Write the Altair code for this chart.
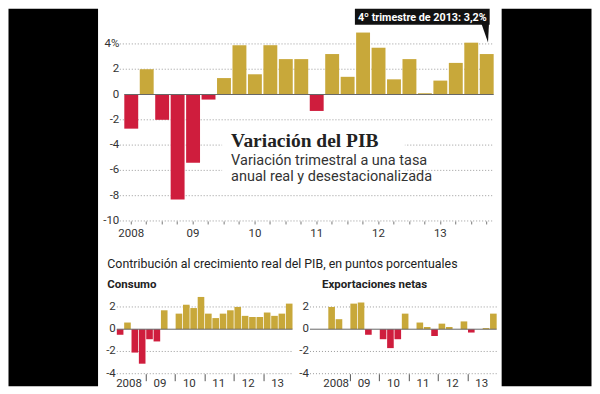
import altair as alt
import pandas as pd

# ---------------- data ----------------
years = ["2008", "2009", "2010", "2011", "2012", "2013"]
quarter_names = ["T1", "T2", "T3", "T4"]
periods = [f"{y}-{q}" for y in years for q in quarter_names]

pib = [-2.7, 2.0, -2.0, -8.3, -5.4, -0.4, 1.3, 3.9,
       1.6, 3.9, 2.8, 2.8, -1.3, 3.2, 1.4, 4.9,
       3.7, 1.2, 2.8, 0.1, 1.1, 2.5, 4.1, 3.2]
consumo = [-0.5, 0.6, -2.1, -3.1, -0.9, -1.1, 1.7, 0.0,
           1.4, 2.2, 1.9, 2.9, 1.4, 1.0, 1.4, 1.7,
           2.0, 1.2, 1.1, 1.1, 1.5, 1.2, 1.4, 2.3]
exportaciones = [0.0, 2.0, 0.9, 0.0, 2.3, 2.4, -0.5, 0.0,
                 -0.9, -1.7, -0.9, 1.4, 0.0, 0.6, 0.2, -0.6,
                 0.5, 0.2, 0.0, 0.7, -0.3, 0.0, 0.1, 1.4]

main_ticks = [-10, -8, -6, -4, -2, 0, 2, 4]
main_tick_labels = ["-10", "-8", "-6", "-4", "-2", "0", "2", "4%"]
main_grid = [-10, -8, -6, -4, -2, 2, 4]
small_ticks = [-4, -2, 0, 2]
small_tick_labels = ["-4", "-2", "0", "2"]
small_grid = [-4, -2, 2]
zero_line = [0]
year_starts = [p for p in periods if p.endswith("T1")]

titulo = "Variación del PIB"
subtitulo = ["Variación trimestral a una tasa", "anual real y desestacionalizada"]
nota = "4º trimestre de 2013: 3,2%"
encabezado = "Contribución al crecimiento real del PIB, en puntos porcentuales"
panel_consumo = "Consumo"
panel_export = "Exportaciones netas"

# ---------------- styles ----------------
GOLD = "#c8a83a"
RED = "#cf1d3d"
SANS = "Roboto, sans-serif"
SERIF = "Liberation Serif, serif"
LABEL = "#333333"
GRID = "#9a9a9a"

df_pib = pd.DataFrame({"periodo": periods, "valor": pib})
df_con = pd.DataFrame({"periodo": periods, "valor": consumo})
df_exp = pd.DataFrame({"periodo": periods, "valor": exportaciones})
df_main_lab = pd.DataFrame({"valor": main_ticks, "etiqueta": main_tick_labels})
df_main_grid = pd.DataFrame({"valor": main_grid})
df_small_lab = pd.DataFrame({"valor": small_ticks, "etiqueta": small_tick_labels})
df_small_grid = pd.DataFrame({"valor": small_grid})
df_zero = pd.DataFrame({"valor": zero_line})
dummy = pd.DataFrame({"k": [0]})

year_label = ("substring(datum.value,5)=='T1' ? "
              "(substring(datum.value,0,4)=='2008' ? '2008' : substring(datum.value,2,4)) : ''")
bar_color = alt.condition("datum.valor < 0", alt.value(RED), alt.value(GOLD))


def deco_rect(x, x2, y, y2, color):
    return alt.Chart(dummy).mark_rect(color=color).encode(
        x=alt.value(x), x2=alt.value(x2), y=alt.value(y), y2=alt.value(y2))


def deco_text(txt, x, y, size, weight="normal", font=SANS, color="#222222", align="left"):
    return alt.Chart(dummy).mark_text(
        text=txt, align=align, baseline="alphabetic", font=font, fontSize=size,
        fontWeight=weight, color=color).encode(x=alt.value(x), y=alt.value(y))


# ---------------- main chart ----------------
TOP_W, TOP_H = 377.5, 190

x_main = alt.X("periodo:N", sort=periods,
               scale=alt.Scale(paddingInner=0.1, paddingOuter=0.2423, align=1),
               axis=alt.Axis(title=None, labelExpr=year_label, labelAngle=0,
                             tickSize=3, tickColor="#777777", domain=False, grid=False,
                             bandPosition=0.5, labelPadding=4, labelFont=SANS,
                             labelFontSize=11.5, labelColor=LABEL))
y_main = alt.Y("valor:Q", scale=alt.Scale(domain=[-10, 5], nice=False), axis=None)

grid_rules = alt.Chart(df_main_grid).mark_rule(color=GRID, strokeDash=[1, 2], strokeWidth=1).encode(
    y=y_main, x=alt.value(3), x2=alt.value(TOP_W))
y_labels = alt.Chart(df_main_lab).mark_text(
    align="right", baseline="middle", font=SANS, fontSize=11.5, color=LABEL).encode(
    y=y_main, x=alt.value(2.5), text="etiqueta:N")
bars = alt.Chart(df_pib).mark_bar().encode(x=x_main, y=y_main, color=bar_color)
zero_main = alt.Chart(df_zero).mark_rule(color="#666666", strokeWidth=1).encode(
    y=y_main, x=alt.value(7.5), x2=alt.value(TOP_W))

pointer = alt.Chart(dummy).mark_point(
    shape="M -0.43 -1.15 L 0.43 -1.15 L 0.32 1 Z", filled=True, color="#111111",
    opacity=1, size=313).encode(x=alt.value(369), y=alt.value(2.35))

top = alt.layer(
    deco_rect(-108.5, -18.8, -22.5, 355.5, "#000000"),
    deco_rect(385.5, 475.5, -22.5, 355.5, "#000000"),
    grid_rules,
    deco_rect(105.5, 288.5, 94.5, 155.5, "#ffffff"),
    bars,
    zero_main,
    y_labels,
    deco_text(titulo, 114.5, 115.5, 19.5, "bold", SERIF, "#222222"),
    deco_text(subtitulo[0], 114.5, 133.8, 14.5, color="#333333"),
    deco_text(subtitulo[1], 114.5, 149.5, 14.5, color="#333333"),
    deco_rect(238.5, 373.5, -22.5, -6.5, "#111111"),
    pointer,
    deco_text(nota, 306, -10, 10.8, "bold", SANS, "#ffffff", "center"),
).properties(width=TOP_W, height=TOP_H)


# ---------------- small charts ----------------
SM_H = 78


def small(df, width, pad_outer, offset_2008):
    x = alt.X("periodo:N", sort=periods,
              scale=alt.Scale(paddingInner=0.1, paddingOuter=pad_outer, align=1),
              axis=alt.Axis(title=None, values=year_starts, labelExpr=year_label,
                            labelAngle=0, bandPosition=0, tickSize=7, tickColor="#555555",
                            tickOpacity=alt.ConditionalAxisNumber(
                                condition={"test": "datum.value == '2008-T1'", "value": 0}, value=1),
                            labelOffset=alt.ConditionalAxisNumber(
                                condition={"test": "datum.value == '2008-T1'", "value": offset_2008}, value=4),
                            labelAlign="left", labelPadding=-3, domain=False, grid=False,
                            labelOverlap=False,
                            labelFont=SANS, labelFontSize=11.5, labelColor=LABEL))
    y = alt.Y("valor:Q", scale=alt.Scale(domain=[-4, 3], nice=False), axis=None)
    g = alt.Chart(df_small_grid).mark_rule(color=GRID, strokeDash=[1, 2], strokeWidth=1).encode(
        y=y, x=alt.value(0), x2=alt.value(width))
    lab = alt.Chart(df_small_lab).mark_text(
        align="right", baseline="middle", font=SANS, fontSize=11.5, color=LABEL).encode(
        y=y, x=alt.value(-1), text="etiqueta:N")
    b = alt.Chart(df).mark_bar().encode(x=x, y=y, color=bar_color)
    z = alt.Chart(df_zero).mark_rule(color="#666666", strokeWidth=1).encode(
        y=y, x=alt.value(0), x2=alt.value(width))
    return [g, b, z, lab]


cons = alt.layer(
    *small(df_con, 176, 0, -4),
    deco_text(encabezado, -9.5, -27.5, 12.4, color="#222222"),
    deco_text(panel_consumo, -9.5, -7.5, 11.5, "bold", color="#222222"),
).properties(width=176, height=SM_H)

expo = alt.layer(
    *small(df_exp, 187, 0.747, -1),
    deco_text(panel_export, 12, -7.5, 11.5, "bold", color="#222222"),
).properties(width=187, height=SM_H)

bottom = alt.hconcat(cons, expo, spacing=17.5, bounds="flush")

chart = alt.vconcat(top, bottom, spacing=75, bounds="flush").properties(
    padding=0, background="#ffffff"
).configure_view(stroke=None)

chart.save("out.html", embed_options={"renderer": "svg", "actions": False})
